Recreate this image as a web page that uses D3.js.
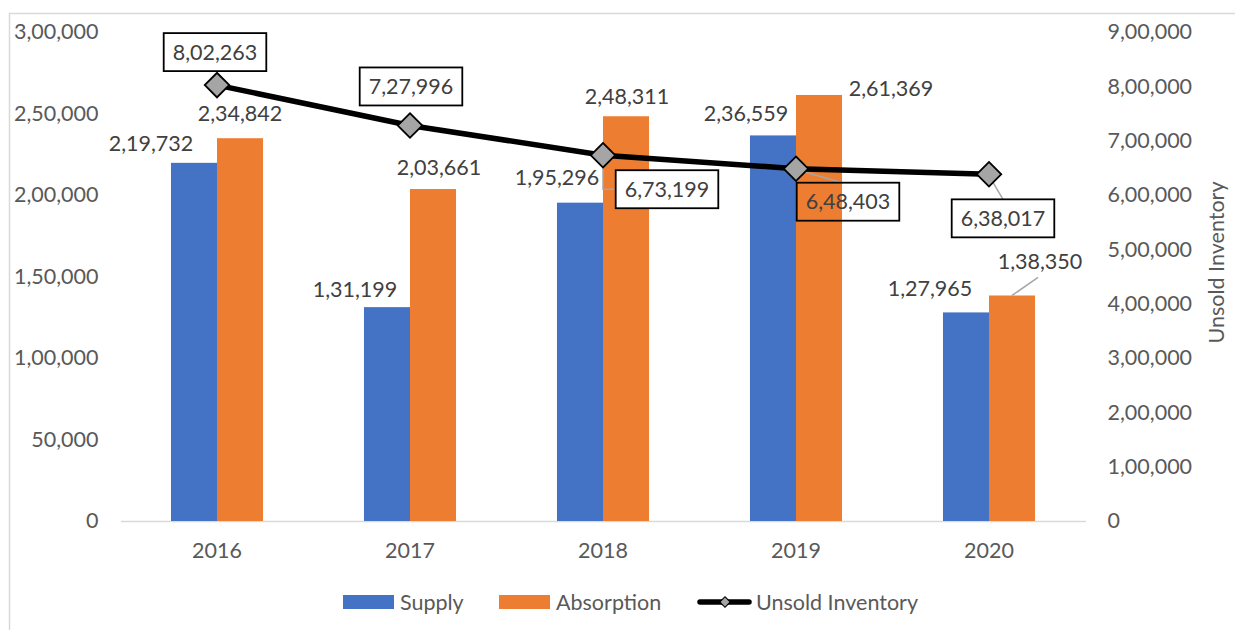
<!DOCTYPE html>
<html>
<head>
<meta charset="utf-8">
<script src="https://cdn.jsdelivr.net/npm/d3@7"></script>
<style>
    body { margin: 0; background: #fff; }
    #chart { width: 1235px; height: 630px; }
    text { font-family: Lato, "Open Sans", sans-serif; }
</style>
</head>
<body>
<div id="chart"></div>
<script>
// data
const years = ["2016", "2017", "2018", "2019", "2020"];
const supply = [219732, 131199, 195296, 236559, 127965];
const absorption = [234842, 203661, 248311, 261369, 138350];
const unsold = [802263, 727996, 673199, 648403, 638017];
const leftTicks = [0, 50000, 100000, 150000, 200000, 250000, 300000];
const rightTicks = [0, 100000, 200000, 300000, 400000, 500000, 600000, 700000, 800000, 900000];

// label placement (offsets from the anchor point, label center)
const supplyLabelOffsets = [[-43, -19], [-32, -18], [-23, -25], [-27, -22], [-36, -24]];
const absorptionLabelOffsets = [[0, -25], [6, -22], [1, -20], [72, -6], [28, -34]];
const unsoldLabelOffsets = [[-2, -33], [1, -39], [64, 34], [52, 33], [14, 44]];
const unsoldBoxFill = ["#fff", "#fff", "#fff", "none", "#fff"];

const BLUE = "#4472C4", ORANGE = "#ED7D31", GREY = "#A5A5A5";
const TICK_COLOR = "#595959", LABEL_COLOR = "#404040", LEADER = "#A6A6A6";
const FS = 21.5;

function indianFormat(n) {
    let s = Math.round(n).toString();
    if (s.length <= 3) return s;
    let last3 = s.slice(-3);
    let rest = s.slice(0, -3).replace(/\B(?=(\d{2})+(?!\d))/g, ",");
    return rest + "," + last3;
}

function ComboChart(container_id) {
    this.container = d3.select(container_id);
    this.W = 1235;
    this.H = 630;
    this.margin = { top: 32, right: 149.5, bottom: 109, left: 120.5 };
    this.width = this.W - this.margin.left - this.margin.right;
    this.height = this.H - this.margin.top - this.margin.bottom;

    this.root = this.container.append("svg")
        .attr("width", this.W)
        .attr("height", this.H);

    // chart frame, cut off at right and bottom like the original
    this.root.append("rect")
        .attr("x", 9.5).attr("y", 13.5)
        .attr("width", this.W + 20).attr("height", this.H + 20)
        .attr("fill", "none")
        .attr("stroke", "#D9D9D9")
        .attr("stroke-width", 1.5);

    this.svg = this.root.append("g")
        .attr("transform", "translate(" + this.margin.left + "," + this.margin.top + ")");
}

ComboChart.prototype.draw = function() {
    let width = this.width, height = this.height, svg = this.svg;

    let x = d3.scaleBand().domain(years).range([0, width]).padding(0);
    let groupW = x.bandwidth() * 0.477;
    let x1 = d3.scaleBand().domain(["supply", "absorption"])
        .range([(x.bandwidth() - groupW) / 2, (x.bandwidth() + groupW) / 2]);
    let y = d3.scaleLinear().domain([0, 300000]).range([height, 0]);
    let y2 = d3.scaleLinear().domain([0, 900000]).range([height, 0]);

    // left axis
    let yAxis = svg.append("g").attr("class", "y--axis")
        .call(d3.axisLeft(y).tickValues(leftTicks).tickFormat(indianFormat).tickSize(0).tickPadding(22));
    yAxis.select(".domain").remove();

    // right axis
    let y2Axis = svg.append("g").attr("class", "y2--axis")
        .attr("transform", "translate(" + width + ",0)")
        .call(d3.axisRight(y2).tickValues(rightTicks).tickFormat(indianFormat).tickSize(0).tickPadding(22));
    y2Axis.select(".domain").remove();

    // x axis
    let xAxis = svg.append("g").attr("class", "x--axis")
        .attr("transform", "translate(0," + height + ")")
        .call(d3.axisBottom(x).tickSize(0).tickPadding(22));
    xAxis.select(".domain").attr("stroke", "#D9D9D9").attr("stroke-width", 1.3);

    svg.selectAll(".tick text")
        .attr("fill", TICK_COLOR)
        .attr("font-size", FS)
        .style("font-family", "Lato, 'Open Sans', sans-serif");

    svg.append("text")
        .attr("transform", "translate(" + (width + 131) + "," + (height / 2 - 14) + ") rotate(-90)")
        .attr("text-anchor", "middle")
        .attr("dy", "0.35em")
        .attr("fill", TICK_COLOR)
        .attr("font-size", FS)
        .text("Unsold Inventory");

    // bars
    let rows = years.map((yr, i) => ({ year: yr, supply: supply[i], absorption: absorption[i], i: i }));
    let groups = svg.selectAll(".bar-g").data(rows).enter().append("g")
        .classed("bar-g", true)
        .attr("transform", d => "translate(" + x(d.year) + ",0)");

    groups.append("rect")
        .attr("x", x1("supply")).attr("width", x1.bandwidth())
        .attr("y", d => y(d.supply)).attr("height", d => height - y(d.supply))
        .attr("fill", BLUE);
    groups.append("rect")
        .attr("x", x1("absorption")).attr("width", x1.bandwidth())
        .attr("y", d => y(d.absorption)).attr("height", d => height - y(d.absorption))
        .attr("fill", ORANGE);

    // leader for the 2020 absorption label
    let ai = 4;
    let ax = x(years[ai]) + x1("absorption") + x1.bandwidth() / 2, ay = y(absorption[ai]);
    svg.append("line")
        .attr("x1", ax).attr("y1", ay)
        .attr("x2", ax + absorptionLabelOffsets[ai][0] - 2).attr("y2", ay + absorptionLabelOffsets[ai][1] + 16)
        .attr("stroke", LEADER).attr("stroke-width", 1.5);

    // bar labels
    groups.append("text")
        .attr("x", d => x1("supply") + x1.bandwidth() / 2 + supplyLabelOffsets[d.i][0])
        .attr("y", d => y(d.supply) + supplyLabelOffsets[d.i][1])
        .attr("dy", "0.35em").attr("text-anchor", "middle")
        .attr("fill", LABEL_COLOR).attr("font-size", FS)
        .text(d => indianFormat(d.supply));
    groups.append("text")
        .attr("x", d => x1("absorption") + x1.bandwidth() / 2 + absorptionLabelOffsets[d.i][0])
        .attr("y", d => y(d.absorption) + absorptionLabelOffsets[d.i][1])
        .attr("dy", "0.35em").attr("text-anchor", "middle")
        .attr("fill", LABEL_COLOR).attr("font-size", FS)
        .text(d => indianFormat(d.absorption));

    // unsold inventory line
    let cx = i => x(years[i]) + x.bandwidth() / 2;
    let line = d3.line().x((d, i) => cx(i)).y(d => y2(d));
    svg.append("path")
        .datum(unsold)
        .attr("d", line)
        .attr("fill", "none")
        .attr("stroke", "#000")
        .attr("stroke-width", 5.5)
        .attr("stroke-linejoin", "round");

    // leader lines for moved line labels
    let leaders = [
        [2, [[0, 0], [0, 34], [14, 34]]],
        [3, [[4, 2], [47, 14]]],
        [4, [[4, 8], [14, 25]]]
    ];
    leaders.forEach(function(l) {
        let i = l[0];
        let pts = l[1].map(p => [cx(i) + p[0], y2(unsold[i]) + p[1]]);
        svg.append("path")
            .attr("d", d3.line()(pts))
            .attr("fill", "none")
            .attr("stroke", LEADER)
            .attr("stroke-width", 1.5);
    });

    let diamond = d3.symbol().type(d3.symbolSquare).size(300);
    svg.selectAll(".marker").data(unsold).enter().append("path")
        .classed("marker", true)
        .attr("d", diamond)
        .attr("transform", (d, i) => "translate(" + cx(i) + "," + y2(d) + ") rotate(45)")
        .attr("fill", GREY)
        .attr("stroke", "#000")
        .attr("stroke-width", 1.8);

    // boxed labels
    let boxes = svg.selectAll(".unsold-label").data(unsold).enter().append("g")
        .classed("unsold-label", true)
        .attr("transform", (d, i) => "translate(" + (cx(i) + unsoldLabelOffsets[i][0]) + "," + (y2(d) + unsoldLabelOffsets[i][1]) + ")");
    let rects = boxes.append("rect");
    let texts = boxes.append("text")
        .attr("text-anchor", "middle")
        .attr("dy", "0.35em")
        .attr("fill", LABEL_COLOR)
        .attr("font-size", FS)
        .text(d => indianFormat(d));
    texts.each(function(d, i) {
        let bb = this.getBBox();
        d3.select(rects.nodes()[i])
            .attr("x", -bb.width / 2 - 9).attr("y", -19)
            .attr("width", bb.width + 18).attr("height", 38)
            .attr("fill", unsoldBoxFill[i])
            .attr("stroke", "#000")
            .attr("stroke-width", 1.8);
    });

    this.legend();
}

ComboChart.prototype.legend = function() {
    let lg = this.root.append("g").attr("transform", "translate(0,602)");
    let items = [
        { name: "Supply", type: "bar", color: BLUE, x: 343 },
        { name: "Absorption", type: "bar", color: ORANGE, x: 499 },
        { name: "Unsold Inventory", type: "line", color: "#000", x: 697 }
    ];
    items.forEach(function(it) {
        let g = lg.append("g").attr("transform", "translate(" + it.x + ",0)");
        let textX;
        if (it.type == "bar") {
            g.append("rect").attr("x", 0).attr("y", -7).attr("width", 51).attr("height", 14).attr("fill", it.color);
            textX = 57;
        } else {
            g.append("line").attr("x1", 3).attr("x2", 52).attr("y1", 0).attr("y2", 0)
                .attr("stroke", "#000").attr("stroke-width", 5.5).attr("stroke-linecap", "round");
            g.append("path").attr("d", d3.symbol().type(d3.symbolSquare).size(55))
                .attr("transform", "translate(28,0) rotate(45)")
                .attr("fill", GREY).attr("stroke", "#000").attr("stroke-width", 1.2);
            textX = 59;
        }
        g.append("text").attr("x", textX).attr("dy", "0.35em")
            .attr("fill", TICK_COLOR).attr("font-size", FS)
            .text(it.name);
    });
}

let chart = new ComboChart("#chart");
chart.draw();
</script>
</body>
</html>
